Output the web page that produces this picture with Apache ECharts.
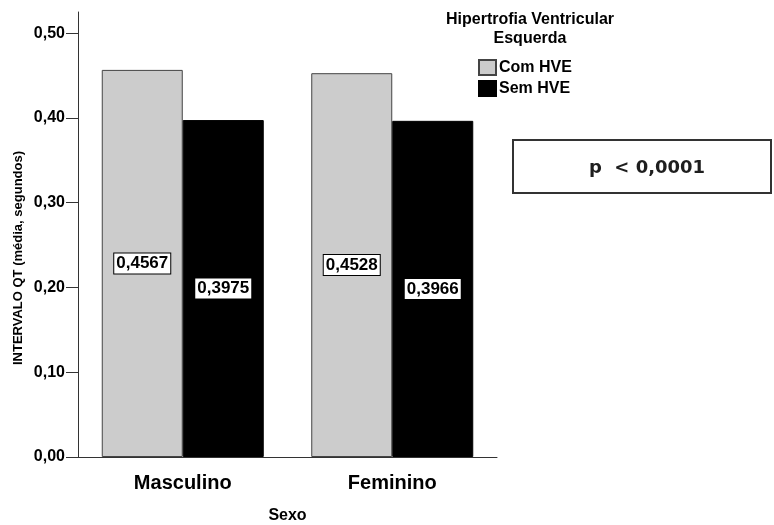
<!DOCTYPE html>
<html>
<head>
<meta charset="utf-8">
<script src="https://cdn.jsdelivr.net/npm/echarts@6/dist/echarts.min.js"></script>
<style>
  html, body { margin: 0; padding: 0; background: #fff; }
  #chart { width: 774px; height: 525px; }
</style>
</head>
<body>
<div id="chart"></div>
<script>
  // dados
  const categorias = ['Masculino', 'Feminino'];
  const comHVE = [0.4567, 0.4528];
  const semHVE = [0.3975, 0.3966];
  const yTicks = [0, 0.1, 0.2, 0.3, 0.4, 0.5];

  const font = '"Liberation Sans", Arial, sans-serif';
  const virgula = (v, d) => v.toFixed(d).replace('.', ',');

  const rotulo = {
    show: true,
    position: 'inside',
    formatter: (p) => virgula(p.value, 4),
    color: '#000',
    fontFamily: font,
    fontWeight: 'bold',
    fontSize: 17,
    backgroundColor: '#fff',
    borderColor: '#000',
    borderWidth: 1,
    padding: [2, 2, 1, 2]
  };

  let chart = echarts.init(document.getElementById('chart'));
  chart.setOption({
    animation: false,
    title: {
      text: 'Hipertrofia Ventricular\nEsquerda',
      left: 530,
      top: 10,
      padding: 0,
      textAlign: 'center',
      textStyle: {
        fontFamily: font,
        fontWeight: 'bold',
        fontSize: 16,
        lineHeight: 19,
        color: '#000'
      }
    },
    legend: {
      orient: 'vertical',
      left: 478,
      top: 59,
      padding: 0,
      itemGap: 4,
      itemWidth: 17,
      itemHeight: 15,
      icon: 'rect',
      data: ['Com HVE', 'Sem HVE'],
      textStyle: {
        fontFamily: font,
        fontWeight: 'bold',
        fontSize: 16,
        color: '#000',
        padding: [0, 0, 0, -2]
      }
    },
    grid: {
      left: 78,
      right: 277,
      top: 12,
      bottom: 68,
      outerBoundsMode: 'none'
    },
    xAxis: {
      type: 'category',
      data: categorias,
      name: 'Sexo',
      nameLocation: 'middle',
      nameGap: 51,
      nameTextStyle: {
        fontFamily: font,
        fontWeight: 'bold',
        fontSize: 16,
        color: '#000'
      },
      axisLine: { lineStyle: { color: '#333', width: 1 } },
      axisTick: { alignWithLabel: true, length: 13, lineStyle: { color: '#333' } },
      axisLabel: {
        margin: 16,
        fontFamily: font,
        fontWeight: 'bold',
        fontSize: 20,
        color: '#000'
      }
    },
    yAxis: {
      type: 'value',
      min: 0,
      max: 0.525,
      axisLine: { show: true, lineStyle: { color: '#333', width: 1 } },
      axisTick: { show: true, length: 12, customValues: yTicks, lineStyle: { color: '#333' } },
      splitLine: { show: false },
      axisLabel: {
        customValues: yTicks,
        margin: 13,
        formatter: (v) => virgula(v, 2),
        fontFamily: font,
        fontWeight: 'bold',
        fontSize: 16,
        color: '#000'
      }
    },
    series: [
      {
        name: 'Com HVE',
        type: 'bar',
        data: comHVE,
        barWidth: 81,
        barGap: '0%',
        itemStyle: { color: '#cccccc', borderColor: '#444', borderWidth: 1 },
        label: rotulo
      },
      {
        name: 'Sem HVE',
        type: 'bar',
        data: semHVE,
        barWidth: 81,
        barGap: '0%',
        itemStyle: { color: '#000', borderColor: '#000', borderWidth: 1 },
        label: rotulo
      }
    ],
    graphic: [
      {
        type: 'text',
        x: 18,
        y: 258,
        rotation: Math.PI / 2,
        style: {
          text: 'INTERVALO QT (média, segundos)',
          fontFamily: font,
          fontWeight: 'bold',
          fontSize: 13,
          fill: '#000',
          align: 'center',
          verticalAlign: 'middle'
        }
      },
      {
        type: 'rect',
        shape: { x: 513, y: 140, width: 258, height: 53 },
        style: { fill: '#fff', stroke: '#333', lineWidth: 2 }
      },
      {
        type: 'text',
        x: 647,
        y: 168,
        style: {
          text: 'p  < 0,0001',
          fontFamily: '"DejaVu Sans", sans-serif',
          fontWeight: 'bold',
          fontSize: 18,
          fill: '#1e1e1e',
          align: 'center',
          verticalAlign: 'middle'
        }
      }
    ]
  });
</script>
</body>
</html>
